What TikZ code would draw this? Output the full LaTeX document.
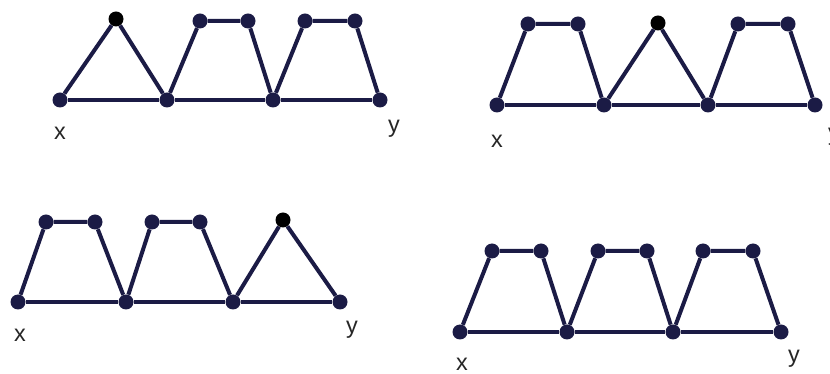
\documentclass[tikz,border=0pt]{standalone}
\usepackage{fontspec}
\setmainfont{Liberation Sans}

\begin{document}
\begin{tikzpicture}[
  x=0.03cm, y=-0.03cm,
  vtx/.style={circle, fill=navy, inner sep=0pt, minimum size=15*0.03cm},
  apex/.style={vtx, fill=black},
  edge/.style={draw=navy, line width=4*0.03cm},
  lbl/.style={font=\fontsize{20}{20}\selectfont, text=black!85, inner sep=0pt}
]
\definecolor{navy}{HTML}{1B1B45}
\useasboundingbox (0,0) rectangle (830,374);

% top left: triangle, square, square
\node[vtx] (a0) at (60,100) {};
\node[vtx] (a1) at (167,100) {};
\node[vtx] (a2) at (273,100) {};
\node[vtx] (a3) at (380,100) {};
\node[apex] (at) at (116,19) {};
\node[vtx] (a4) at (200,21) {};
\node[vtx] (a5) at (248,21) {};
\node[vtx] (a6) at (305,21) {};
\node[vtx] (a7) at (355,21) {};
\draw[edge] (a0) -- (a1) -- (a2) -- (a3);
\draw[edge] (a0) -- (at) -- (a1);
\draw[edge] (a1) -- (a4) -- (a5) -- (a2);
\draw[edge] (a2) -- (a6) -- (a7) -- (a3);
\node[lbl] (ax) at (60,133) {x};
\node[lbl] (ay) at (394,129) {y};

% top right: square, triangle, square
\node[vtx] (b0) at (497,105) {};
\node[vtx] (b1) at (604,105) {};
\node[vtx] (b2) at (708,105) {};
\node[vtx] (b3) at (815,105) {};
\node[vtx] (b4) at (528,24) {};
\node[vtx] (b5) at (578,24) {};
\node[apex] (bt) at (658,23) {};
\node[vtx] (b6) at (738,24) {};
\node[vtx] (b7) at (788,24) {};
\draw[edge] (b0) -- (b1) -- (b2) -- (b3);
\draw[edge] (b0) -- (b4) -- (b5) -- (b1);
\draw[edge] (b1) -- (bt) -- (b2);
\draw[edge] (b2) -- (b6) -- (b7) -- (b3);
\node[lbl] (bx) at (497,141) {x};
\node[lbl] (by) at (834,137) {y};

% bottom left: square, square, triangle
\node[vtx] (c0) at (18,302) {};
\node[vtx] (c1) at (126,302) {};
\node[vtx] (c2) at (233,302) {};
\node[vtx] (c3) at (340,302) {};
\node[vtx] (c4) at (46,222) {};
\node[vtx] (c5) at (95,222) {};
\node[vtx] (c6) at (152,222) {};
\node[vtx] (c7) at (200,222) {};
\node[apex] (ct) at (283,220) {};
\draw[edge] (c0) -- (c1) -- (c2) -- (c3);
\draw[edge] (c0) -- (c4) -- (c5) -- (c1);
\draw[edge] (c1) -- (c6) -- (c7) -- (c2);
\draw[edge] (c2) -- (ct) -- (c3);
\node[lbl] (cx) at (20,335) {x};
\node[lbl] (cy) at (352,330) {y};

% bottom right: three squares
\node[vtx] (d0) at (460,332) {};
\node[vtx] (d1) at (567,332) {};
\node[vtx] (d2) at (673,332) {};
\node[vtx] (d3) at (781,332) {};
\node[vtx] (d4) at (492,251) {};
\node[vtx] (d5) at (541,251) {};
\node[vtx] (d6) at (598,251) {};
\node[vtx] (d7) at (647,251) {};
\node[vtx] (d8) at (703,251) {};
\node[vtx] (d9) at (753,251) {};
\draw[edge] (d0) -- (d1) -- (d2) -- (d3);
\draw[edge] (d0) -- (d4) -- (d5) -- (d1);
\draw[edge] (d1) -- (d6) -- (d7) -- (d2);
\draw[edge] (d2) -- (d8) -- (d9) -- (d3);
\node[lbl] (dx) at (462,364) {x};
\node[lbl] (dy) at (794,359) {y};

\end{tikzpicture}
\end{document}
